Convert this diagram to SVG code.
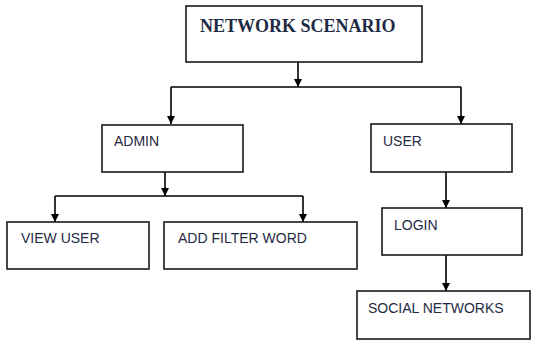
<svg xmlns="http://www.w3.org/2000/svg" width="534" height="341" viewBox="0 0 534 341">
  <style>
    .box { fill: #ffffff; stroke: #1a1a1a; stroke-width: 1.6; }
    .lbl { font-family: "Liberation Sans", Arial, sans-serif; font-size: 14px; fill: #1f2a44; }
    .title { font-family: "Liberation Serif", "Times New Roman", serif; font-size: 18px; font-weight: bold; fill: #1f2a44; }
    .wire { fill: none; stroke: #000000; stroke-width: 1.6; }
  </style>
  <defs>
    <marker id="arrow" viewBox="0 0 10 10" refX="10" refY="5" markerWidth="8" markerHeight="8" markerUnits="userSpaceOnUse" orient="auto">
      <path d="M0,0 L10,5 L0,10 Z" fill="#000000"/>
    </marker>
  </defs>
  <rect width="534" height="341" fill="#ffffff"/>

  <g id="connectors">
    <!-- root to second level -->
    <path class="wire" d="M298,62 V87" marker-end="url(#arrow)"/>
    <path class="wire" d="M171,87 H461"/>
    <path class="wire" d="M171,87 V124" marker-end="url(#arrow)"/>
    <path class="wire" d="M461,87 V124" marker-end="url(#arrow)"/>
    <!-- admin branch -->
    <path class="wire" d="M165,172 V196" marker-end="url(#arrow)"/>
    <path class="wire" d="M55,196 H303"/>
    <path class="wire" d="M55,196 V222" marker-end="url(#arrow)"/>
    <path class="wire" d="M303,196 V222" marker-end="url(#arrow)"/>
    <!-- user branch -->
    <path class="wire" d="M446,172 V208" marker-end="url(#arrow)"/>
    <path class="wire" d="M446,255 V291" marker-end="url(#arrow)"/>
  </g>

  <g id="network-scenario">
    <rect class="box" x="186" y="6" width="236" height="56"/>
    <text class="title" x="200" y="32">NETWORK SCENARIO</text>
  </g>
  <g id="admin">
    <rect class="box" x="102" y="125" width="141" height="47"/>
    <text class="lbl" x="114" y="146">ADMIN</text>
  </g>
  <g id="user">
    <rect class="box" x="371" y="124" width="141" height="48"/>
    <text class="lbl" x="383" y="146">USER</text>
  </g>
  <g id="view-user">
    <rect class="box" x="7" y="222" width="142" height="47"/>
    <text class="lbl" x="21" y="243">VIEW USER</text>
  </g>
  <g id="add-filter-word">
    <rect class="box" x="164" y="222" width="193" height="47"/>
    <text class="lbl" x="178" y="243">ADD FILTER WORD</text>
  </g>
  <g id="login">
    <rect class="box" x="382" y="208" width="140" height="47"/>
    <text class="lbl" x="394" y="230">LOGIN</text>
  </g>
  <g id="social-networks">
    <rect class="box" x="357" y="291" width="173" height="48"/>
    <text class="lbl" x="368" y="313">SOCIAL NETWORKS</text>
  </g>
</svg>
